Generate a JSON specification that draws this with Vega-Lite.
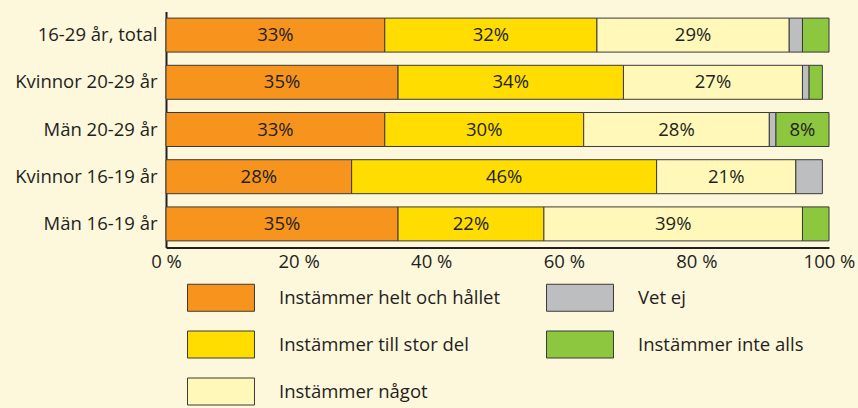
{
  "$schema": "https://vega.github.io/schema/vega-lite/v6.json",
  "autosize": {"type": "none"},
  "width": 663,
  "height": 236,
  "padding": {"left": 166, "top": 11.5, "right": 29, "bottom": 160.5},
  "background": "#FDF7DC",
  "config": {
    "view": {"stroke": null},
    "font": "Open Sans",
    "axis": {"labelFont": "Open Sans", "labelColor": "#231F20", "domainColor": "#231F20", "domainWidth": 2, "ticks": false, "grid": false, "title": null},
    "legend": {"labelFont": "Open Sans", "labelColor": "#231F20"}
  },
  "data": {"values": [
    {"group": "16-29 år, total", "cat": "Instämmer helt och hållet", "rank": 1, "pct": 0.33},
    {"group": "16-29 år, total", "cat": "Instämmer till stor del", "rank": 2, "pct": 0.32},
    {"group": "16-29 år, total", "cat": "Instämmer något", "rank": 3, "pct": 0.29},
    {"group": "16-29 år, total", "cat": "Vet ej", "rank": 4, "pct": 0.02},
    {"group": "16-29 år, total", "cat": "Instämmer inte alls", "rank": 5, "pct": 0.04},
    {"group": "Kvinnor 20-29 år", "cat": "Instämmer helt och hållet", "rank": 1, "pct": 0.35},
    {"group": "Kvinnor 20-29 år", "cat": "Instämmer till stor del", "rank": 2, "pct": 0.34},
    {"group": "Kvinnor 20-29 år", "cat": "Instämmer något", "rank": 3, "pct": 0.27},
    {"group": "Kvinnor 20-29 år", "cat": "Vet ej", "rank": 4, "pct": 0.01},
    {"group": "Kvinnor 20-29 år", "cat": "Instämmer inte alls", "rank": 5, "pct": 0.02},
    {"group": "Män 20-29 år", "cat": "Instämmer helt och hållet", "rank": 1, "pct": 0.33},
    {"group": "Män 20-29 år", "cat": "Instämmer till stor del", "rank": 2, "pct": 0.30},
    {"group": "Män 20-29 år", "cat": "Instämmer något", "rank": 3, "pct": 0.28},
    {"group": "Män 20-29 år", "cat": "Vet ej", "rank": 4, "pct": 0.01},
    {"group": "Män 20-29 år", "cat": "Instämmer inte alls", "rank": 5, "pct": 0.08},
    {"group": "Kvinnor 16-19 år", "cat": "Instämmer helt och hållet", "rank": 1, "pct": 0.28},
    {"group": "Kvinnor 16-19 år", "cat": "Instämmer till stor del", "rank": 2, "pct": 0.46},
    {"group": "Kvinnor 16-19 år", "cat": "Instämmer något", "rank": 3, "pct": 0.21},
    {"group": "Kvinnor 16-19 år", "cat": "Vet ej", "rank": 4, "pct": 0.04},
    {"group": "Män 16-19 år", "cat": "Instämmer helt och hållet", "rank": 1, "pct": 0.35},
    {"group": "Män 16-19 år", "cat": "Instämmer till stor del", "rank": 2, "pct": 0.22},
    {"group": "Män 16-19 år", "cat": "Instämmer något", "rank": 3, "pct": 0.39},
    {"group": "Män 16-19 år", "cat": "Instämmer inte alls", "rank": 5, "pct": 0.04}
  ]},
  "transform": [
    {"stack": "pct", "groupby": ["group"], "sort": [{"field": "rank", "order": "ascending"}], "as": ["x0", "x1"]}
  ],
  "encoding": {
    "y": {
      "field": "group", "type": "nominal",
      "sort": ["16-29 år, total", "Kvinnor 20-29 år", "Män 20-29 år", "Kvinnor 16-19 år", "Män 16-19 år"],
      "scale": {"paddingInner": 0.28, "paddingOuter": 0.14},
      "axis": {"labelFontSize": 18.5, "labelPadding": 9, "domainWidth": 2}
    }
  },
  "layer": [
    {
      "mark": {"type": "bar", "stroke": "#3A3A3A", "strokeWidth": 1},
      "encoding": {
        "x": {"field": "x0", "type": "quantitative",
          "scale": {"domain": [0, 1], "nice": false},
          "axis": {"values": [0, 0.2, 0.4, 0.6, 0.8, 1], "labelExpr": "format(datum.value*100, '.0f') + ' %'", "labelFontSize": 18.5, "labelPadding": 5, "labelFlush": false}
        },
        "x2": {"field": "x1"},
        "color": {
          "field": "cat", "type": "nominal",
          "scale": {
            "domain": ["Instämmer helt och hållet", "Instämmer till stor del", "Instämmer något", "Vet ej", "Instämmer inte alls"],
            "range": ["#F7941D", "#FFDD00", "#FFF8B8", "#BCBEC0", "#8DC63F"]
          },
          "legend": {
            "orient": "none", "legendX": 41, "legendY": 272, "columns": 2, "title": null,
            "padding": 0,
            "symbolType": "M-2.48,-1H2.48V1H-2.48Z", "symbolSize": 729,
            "symbolStrokeColor": "#3A3A3A", "symbolStrokeWidth": 1, "symbolOpacity": 1,
            "labelFontSize": 18.5, "labelOffset": 44, "rowPadding": 15, "columnPadding": 43, "labelLimit": 400
          }
        }
      }
    },
    {
      "transform": [{"filter": "datum.pct >= 0.05"}],
      "mark": {"type": "text", "fontSize": 18.5, "color": "#231F20", "font": "Open Sans", "align": "center",
        "dx": {"expr": "(scale('x', datum.x1) - scale('x', datum.x0)) / 2"}},
      "encoding": {
        "x": {"field": "x0", "type": "quantitative"},
        "text": {"field": "pct", "type": "quantitative", "format": ".0%"}
      }
    }
  ]
}
